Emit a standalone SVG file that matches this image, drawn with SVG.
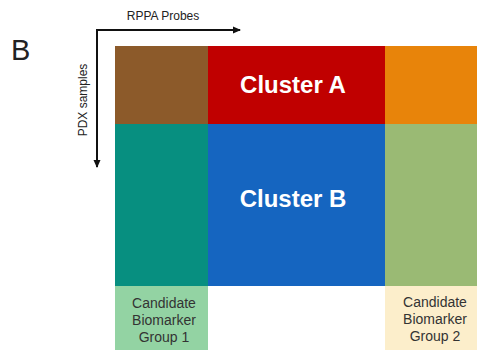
<svg xmlns="http://www.w3.org/2000/svg" width="477" height="352" viewBox="0 0 477 352">
  <style>
    .lbl { font-family: "Liberation Sans", Arial, sans-serif; fill: #222; }
    .axis { stroke: #111; stroke-width: 2; fill: none; }
    .cl { font-family: "Liberation Sans", Arial, sans-serif; font-weight: bold; font-size: 24px; fill: #fff; text-anchor: middle; }
    .cand { font-family: "Liberation Sans", Arial, sans-serif; font-size: 14px; fill: #333; text-anchor: middle; }
  </style>
  <defs>
    <marker id="arr" markerWidth="8" markerHeight="8" refX="7" refY="4" orient="auto" markerUnits="userSpaceOnUse">
      <path d="M0,0.5 L8,4 L0,7.5 Z" fill="#111"/>
    </marker>
  </defs>
  <rect width="477" height="352" fill="#fff"/>

  <text class="lbl" x="11" y="60" font-size="29">B</text>

  <g id="axes">
    <path class="axis" d="M97,40 L97,30 L240,30" marker-end="url(#arr)"/>
    <path class="axis" d="M97,31 L97,167" marker-end="url(#arr)"/>
    <text class="lbl" x="163" y="20" font-size="12" text-anchor="middle">RPPA Probes</text>
    <text class="lbl" x="0" y="0" font-size="12" text-anchor="middle" transform="translate(87,100) rotate(-90)">PDX samples</text>
  </g>

  <g id="cells">
    <rect x="115" y="46" width="93" height="78" fill="#8C5A2A"/>
    <rect x="115" y="124" width="93" height="162" fill="#078F80"/>
    <rect x="385" y="46" width="92" height="78" fill="#E8840A"/>
    <rect x="385" y="124" width="92" height="162" fill="#9ABA74"/>
  </g>

  <g id="clusterA">
    <rect x="208" y="46" width="177" height="78" fill="#C00000"/>
    <text class="cl" x="293" y="93">Cluster A</text>
  </g>

  <g id="clusterB">
    <rect x="208" y="124" width="177" height="162" fill="#1565C0"/>
    <text class="cl" x="293" y="207">Cluster B</text>
  </g>

  <g id="group1">
    <rect x="115" y="286" width="93" height="64" fill="#93D3A3"/>
    <text class="cand" x="164" y="308">Candidate</text>
    <text class="cand" x="164" y="325">Biomarker</text>
    <text class="cand" x="164" y="342">Group 1</text>
  </g>

  <g id="group2">
    <rect x="385" y="286" width="92" height="64" fill="#FCEECB"/>
    <text class="cand" x="435" y="307">Candidate</text>
    <text class="cand" x="435" y="324">Biomarker</text>
    <text class="cand" x="435" y="341">Group 2</text>
  </g>
</svg>
